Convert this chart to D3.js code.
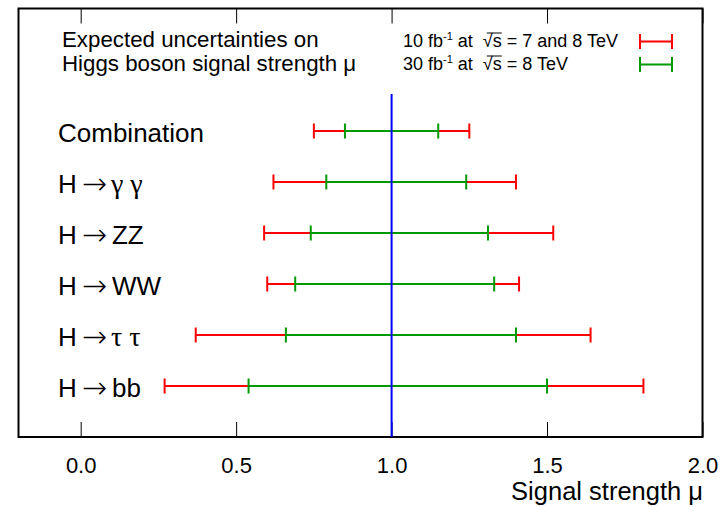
<!DOCTYPE html>
<html lang="en">
<head>
    <meta charset="UTF-8">
    <title>Higgs signal strength</title>
    <script src="https://d3js.org/d3.v7.min.js"></script>
    <style>
        body {
            margin: 0;
            background-color: #ffffff;
            font-family: "Liberation Sans", Arial, sans-serif;
        }
    </style>
</head>
<body>
    <svg id="chart" width="727" height="507"></svg>
    <script>
        // channels, top to bottom
        const channels = ['Combination', 'H → γ γ', 'H → ZZ', 'H → WW', 'H → τ τ', 'H → bb'];
        // 10 fb-1 at 7 and 8 TeV (red)
        const redLow  = [0.75, 0.62, 0.59, 0.60, 0.37, 0.27];
        const redHigh = [1.25, 1.40, 1.52, 1.41, 1.64, 1.81];
        // 30 fb-1 at 8 TeV (green)
        const greenLow  = [0.85, 0.79, 0.74, 0.69, 0.66, 0.54];
        const greenHigh = [1.15, 1.24, 1.31, 1.33, 1.40, 1.50];
        const xTicks = [0.0, 0.5, 1.0, 1.5, 2.0];
        const xDomain = [-0.2, 2.0];
        const refValue = 1.0;

        const svg = d3.select('#chart');
        const frameL = 18.5, frameR = 702.5, frameT = 8.5, frameB = 437;

        const x = d3.scaleLinear().domain(xDomain).range([frameL, frameR]);
        const y = d3.scalePoint().domain(channels).range([130, 386]).round(true);

        const capH = 15;
        const red = '#ff0000', green = '#009900';

        // axes: bottom with labels, top mirrored, minor ticks every 0.1
        const minor = d3.range(-0.1, 2.0001, 0.1).map(v => +v.toFixed(1));
        const bottomG = svg.append('g').attr('transform', `translate(0,${frameB})`);
        bottomG.call(d3.axisBottom(x).tickValues(minor).tickSize(-7.5).tickFormat(''));
        bottomG.call(d3.axisBottom(x).tickValues(xTicks).tickSize(-15).tickPadding(20).tickFormat(d3.format('.1f')));
        const topG = svg.append('g').attr('transform', `translate(0,${frameT})`);
        topG.call(d3.axisTop(x).tickValues(minor).tickSize(-7.5).tickFormat(''));
        topG.call(d3.axisTop(x).tickValues(xTicks).tickSize(-15).tickFormat(''));
        svg.selectAll('.domain').remove();
        svg.selectAll('.tick line').attr('stroke', '#000').attr('stroke-width', 1);
        bottomG.selectAll('.tick text')
            .attr('font-family', '"Liberation Sans", Arial, sans-serif')
            .attr('font-size', 22)
            .attr('fill', '#000');

        // frame
        svg.append('rect')
            .attr('x', frameL).attr('y', frameT)
            .attr('width', frameR - frameL).attr('height', frameB - frameT)
            .attr('fill', 'none').attr('stroke', '#000').attr('stroke-width', 2);

        function errorBar(g, x0, x1, yy, color) {
            g.append('line')
                .attr('x1', x0).attr('x2', x1)
                .attr('y1', yy).attr('y2', yy)
                .attr('stroke', color).attr('stroke-width', 2);
            [x0, x1].forEach(px => {
                g.append('line')
                    .attr('x1', px).attr('x2', px)
                    .attr('y1', yy - capH / 2).attr('y2', yy + capH / 2)
                    .attr('stroke', color).attr('stroke-width', 2);
            });
        }

        const bars = svg.append('g');
        channels.forEach((c, i) => {
            errorBar(bars, x(redLow[i]), x(redHigh[i]), y(c), red);
        });
        channels.forEach((c, i) => {
            errorBar(bars, x(greenLow[i]), x(greenHigh[i]), y(c), green);
        });

        // reference line at mu = 1
        svg.append('line')
            .attr('x1', x(refValue)).attr('x2', x(refValue))
            .attr('y1', y(channels[0]) - 37).attr('y2', frameB)
            .attr('stroke', '#0000ff').attr('stroke-width', 2);

        // channel labels
        channels.forEach(c => {
            const t = svg.append('text')
                .attr('x', 58).attr('y', y(c) + 10.5)
                .attr('font-size', 26).attr('fill', '#000');
            if (c.includes('→')) {
                const tail = c.split('→')[1].trim();
                const greek = /[γτ]/.test(tail);
                t.append('tspan').text('H');
                t.append('tspan').attr('dx', 5)
                    .attr('font-family', '"DejaVu Sans", sans-serif')
                    .attr('font-weight', 200)
                    .attr('font-size', 30)
                    .attr('dy', 1)
                    .text('→');
                t.append('tspan').attr('dx', greek ? 4 : 5).attr('dy', -1)
                    .attr('font-family', greek ? '"Liberation Serif", serif' : null)
                    .attr('font-size', greek ? 28 : 26)
                    .text(tail);
            } else {
                t.text(c);
            }
        });

        // header text
        svg.append('text').attr('x', 62).attr('y', 47).attr('font-size', 22.3)
            .text('Expected uncertainties on');
        svg.append('text').attr('x', 62).attr('y', 71).attr('font-size', 22.3)
            .text('Higgs boson signal strength μ');

        // legend
        const legend = [
            { lumi: '10', energy: '7 and 8 TeV', color: red, y: 47 },
            { lumi: '30', energy: '8 TeV', color: green, y: 70 }
        ];
        legend.forEach(d => {
            const t = svg.append('text').attr('x', 403).attr('y', d.y).attr('font-size', 18);
            t.append('tspan').text(d.lumi + ' fb');
            t.append('tspan').attr('font-size', 11).attr('dy', -7).text('-1');
            t.append('tspan').attr('dy', 7).text('\u00a0at\u00a0\u00a0√');
            t.append('tspan').text('s');
            t.append('tspan').text(' = ' + d.energy);
            // overline of the square root
            const node = t.node();
            const idx = node.textContent.indexOf('√');
            const a = node.getStartPositionOfChar(idx);
            const b = node.getEndPositionOfChar(idx + 1);
            svg.append('line')
                .attr('x1', a.x + 4).attr('x2', b.x)
                .attr('y1', d.y - 14).attr('y2', d.y - 14)
                .attr('stroke', '#000').attr('stroke-width', 1);
            errorBar(svg, 640, 672, d.y - 5.5, d.color);
        });

        // axis title
        svg.append('text').attr('x', 703).attr('y', 500).attr('text-anchor', 'end')
            .attr('font-size', 25.5).text('Signal strength μ');
    </script>
</body>
</html>
